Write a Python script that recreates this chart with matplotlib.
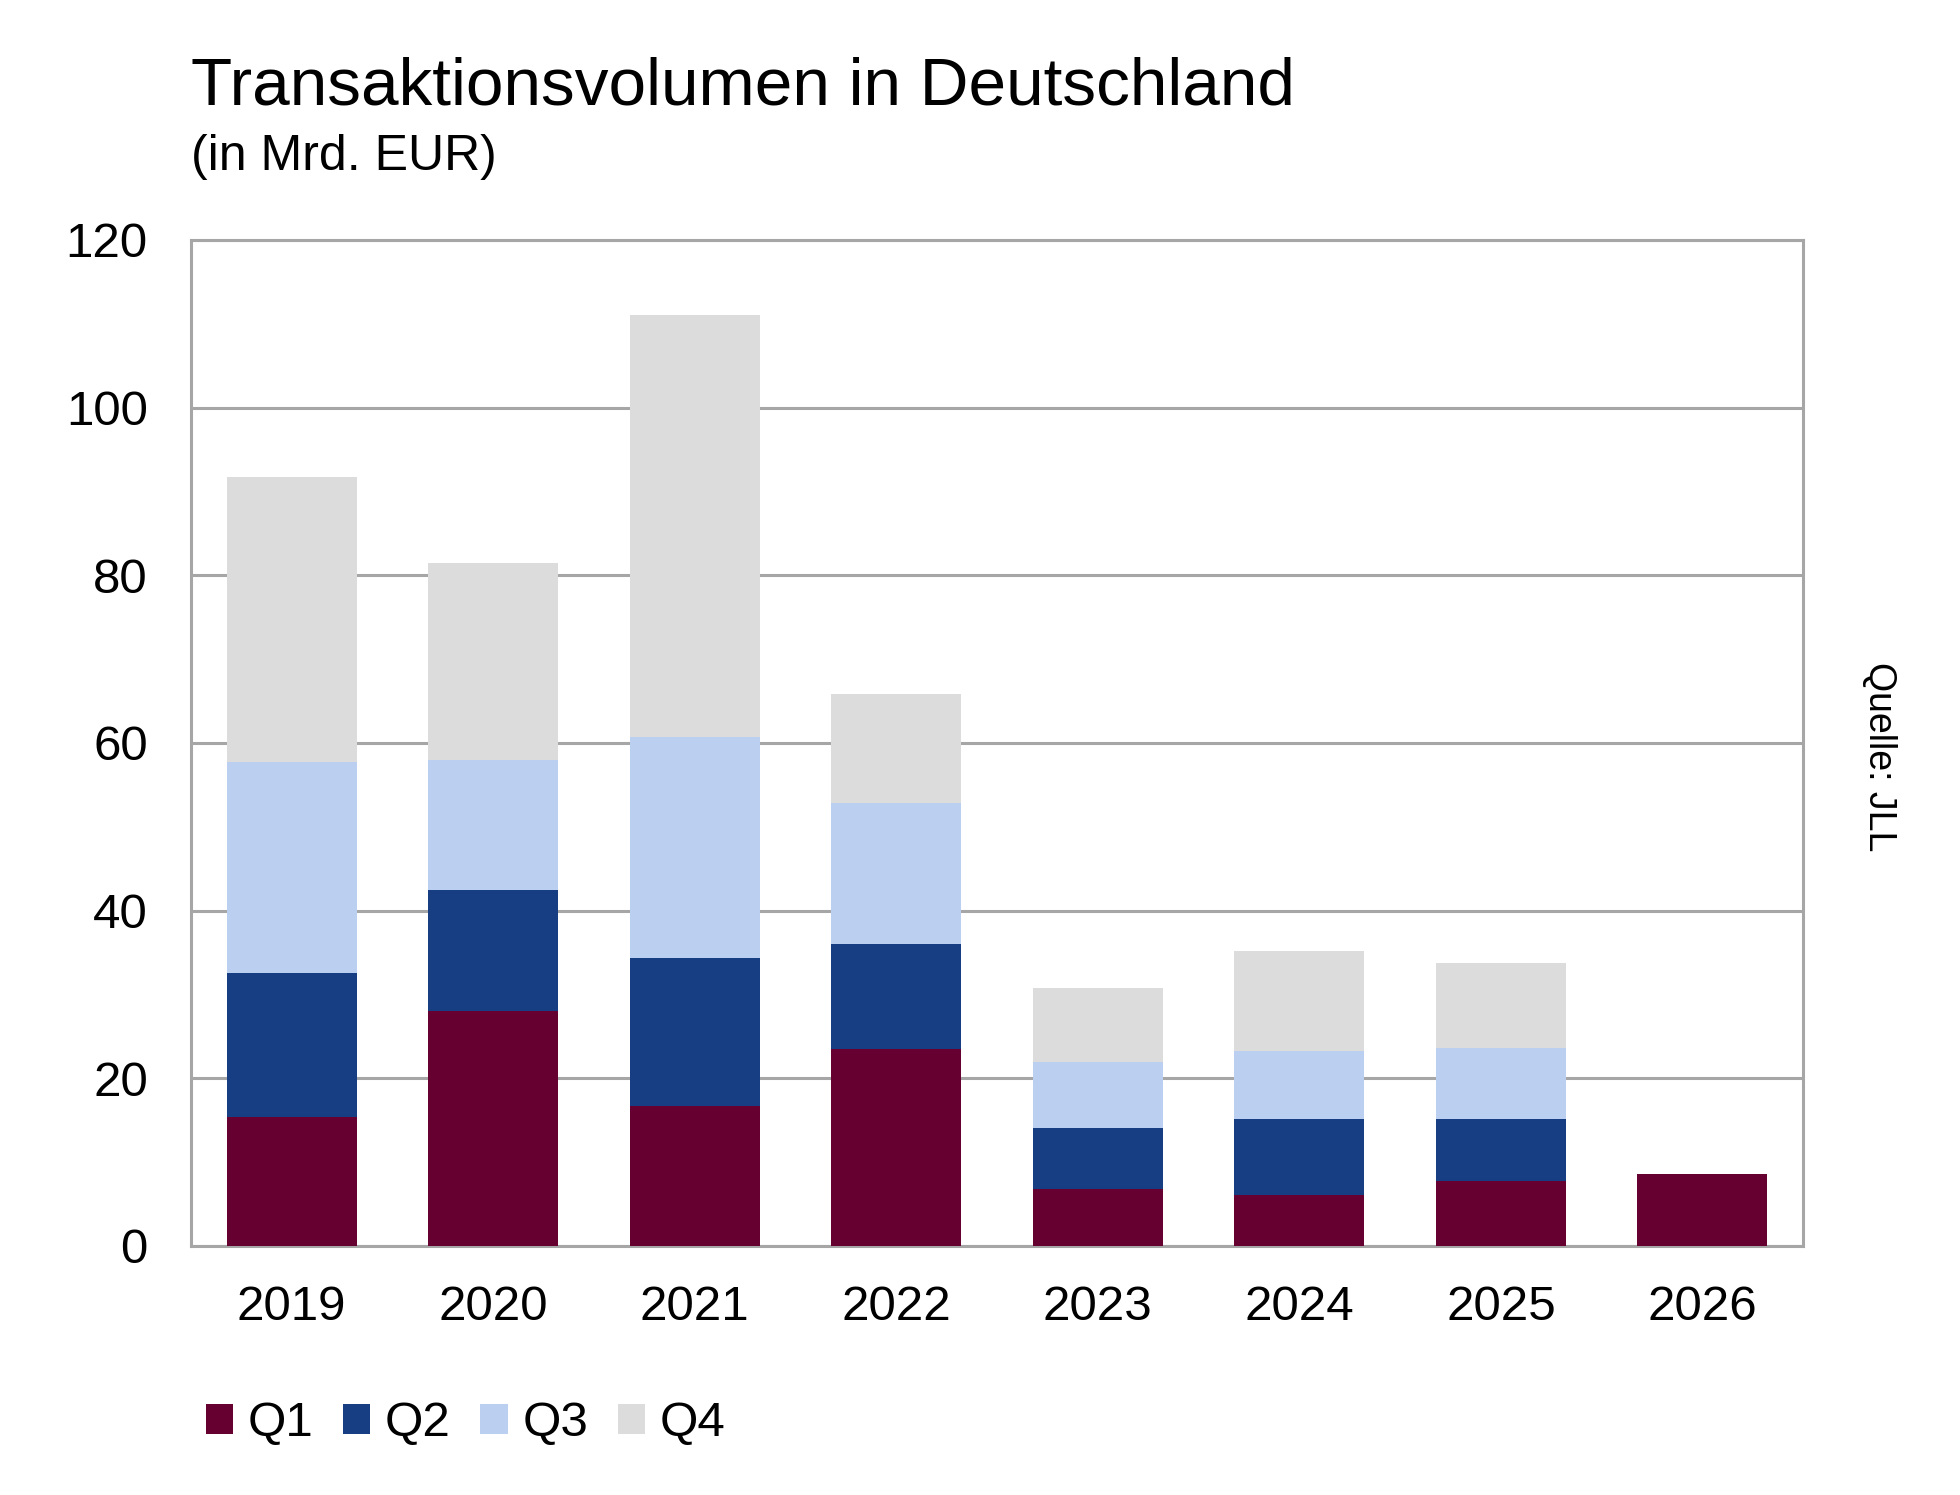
import matplotlib.pyplot as plt
import numpy as np

plt.rcParams['font.family'] = ['Liberation Sans', 'DejaVu Sans']

# Transaktionsvolumen in Mrd. EUR, je Quartal
years = ['2019', '2020', '2021', '2022', '2023', '2024', '2025', '2026']
q1 = [15.4, 28.0, 16.7, 23.5, 6.8, 6.1, 7.7, 8.6]
q2 = [17.2, 14.4, 17.6, 12.5, 7.3, 9.1, 7.4, 0]
q3 = [25.1, 15.6, 26.4, 16.8, 7.9, 8.0, 8.5, 0]
q4 = [34.0, 23.5, 50.4, 13.0, 8.8, 12.0, 10.1, 0]
series = [q1, q2, q3, q4]
labels = ['Q1', 'Q2', 'Q3', 'Q4']
colors = ['#660030', '#173D82', '#BBCFF0', '#DCDCDC']

fig = plt.figure(figsize=(19.6, 14.95), dpi=100)
ax = fig.add_axes([0.0974, 0.1666, 0.8226, 0.6729])

x = np.arange(len(years))
bottom = np.zeros(len(years))
for vals, lab, col in zip(series, labels, colors):
    vals = np.array(vals)
    ax.bar(x, vals, 0.645, bottom=bottom, color=col, label=lab, zorder=3)
    bottom += vals

ax.set_xlim(-0.5, len(years) - 0.5)
ax.set_ylim(0, 120)
ax.set_yticks(range(0, 121, 20))
ax.set_xticks(x)
ax.set_xticklabels(years)
ax.tick_params(axis='both', labelsize=35.5, length=0)
ax.tick_params(axis='x', pad=28)
ax.tick_params(axis='y', pad=31)
ax.yaxis.grid(True, color='#A6A6A6', linewidth=2.2, zorder=0)
for s in ax.spines.values():
    s.set_color('#A6A6A6')
    s.set_linewidth(2.2)

fig.text(0.0974, 0.930, 'Transaktionsvolumen in Deutschland', fontsize=48.6,
         va='baseline', ha='left')
fig.text(0.0974, 0.886, '(in Mrd. EUR)', fontsize=36, va='baseline', ha='left')
fig.text(0.9587, 0.494, 'Quelle: JLL', fontsize=27, rotation=-90,
         ha='center', va='center')

ax.legend(loc='center left', bbox_to_anchor=(-0.003, -0.177),
          ncol=4, frameon=False, fontsize=35.5, handlelength=0.55, handleheight=0.55,
          handletextpad=0.3, columnspacing=0.6, borderaxespad=0)

fig.savefig('out.png', dpi=100)
